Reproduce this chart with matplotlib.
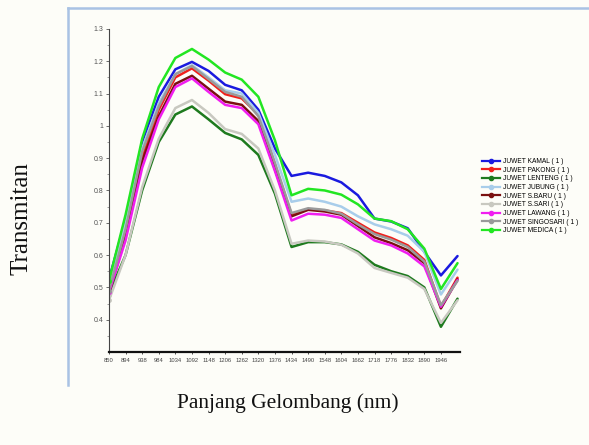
"""Transmittance spectra of nine juwet samples (NIR, 850-2000 nm)."""

import matplotlib.pyplot as plt
from matplotlib.lines import Line2D

# wavelength labels shown under the x axis (one per sample step)
wavelengths = [850, 894, 938, 984, 1034, 1092, 1148, 1206, 1262, 1320, 1376,
               1434, 1490, 1548, 1604, 1662, 1718, 1776, 1832, 1890, 1946]

kamal = [0.525, 0.71, 0.95, 1.09, 1.175, 1.198, 1.17, 1.127, 1.11, 1.05, 0.93,
         0.845, 0.855, 0.845, 0.825, 0.785, 0.713, 0.704, 0.683, 0.61, 0.537, 0.597]
pakong = [0.485, 0.665, 0.90, 1.05, 1.15, 1.178, 1.14, 1.098, 1.085, 1.035, 0.88,
          0.725, 0.742, 0.738, 0.73, 0.70, 0.67, 0.653, 0.63, 0.585, 0.44, 0.53]
lenteng = [0.48, 0.60, 0.80, 0.95, 1.035, 1.06, 1.02, 0.978, 0.958, 0.91, 0.79,
           0.625, 0.64, 0.64, 0.633, 0.61, 0.57, 0.55, 0.535, 0.50, 0.378, 0.465]
jubung = [0.515, 0.70, 0.93, 1.07, 1.16, 1.188, 1.15, 1.11, 1.10, 1.04, 0.91,
          0.765, 0.775, 0.765, 0.75, 0.72, 0.695, 0.68, 0.66, 0.61, 0.478, 0.555]
s_baru = [0.48, 0.66, 0.89, 1.03, 1.13, 1.155, 1.115, 1.075, 1.065, 1.015, 0.865,
          0.72, 0.74, 0.735, 0.725, 0.69, 0.655, 0.637, 0.615, 0.575, 0.435, 0.525]
s_sari = [0.46, 0.60, 0.81, 0.96, 1.055, 1.08, 1.04, 0.99, 0.975, 0.93, 0.80,
          0.635, 0.645, 0.642, 0.632, 0.605, 0.56, 0.545, 0.53, 0.495, 0.39, 0.46]
lawang = [0.485, 0.645, 0.87, 1.02, 1.12, 1.147, 1.105, 1.065, 1.055, 1.005, 0.86,
          0.707, 0.728, 0.725, 0.715, 0.68, 0.645, 0.63, 0.605, 0.565, 0.44, 0.523]
singosari = [0.49, 0.68, 0.92, 1.06, 1.16, 1.185, 1.145, 1.105, 1.09, 1.03, 0.885,
             0.73, 0.745, 0.74, 0.728, 0.695, 0.665, 0.648, 0.625, 0.58, 0.445, 0.52]
medica = [0.52, 0.725, 0.96, 1.12, 1.21, 1.238, 1.205, 1.165, 1.143, 1.09, 0.955,
          0.785, 0.805, 0.80, 0.787, 0.757, 0.713, 0.705, 0.68, 0.62, 0.495, 0.575]

series = [
    ("JUWET KAMAL ( 1 )", kamal, "#1a1adf"),
    ("JUWET PAKONG ( 1 )", pakong, "#f0201c"),
    ("JUWET LENTENG ( 1 )", lenteng, "#1e7a1e"),
    ("JUWET JUBUNG ( 1 )", jubung, "#a8cdea"),
    ("JUWET S.BARU ( 1 )", s_baru, "#7a1010"),
    ("JUWET S.SARI ( 1 )", s_sari, "#c8c8c0"),
    ("JUWET LAWANG ( 1 )", lawang, "#f01ef0"),
    ("JUWET SINGOSARI ( 1 )", singosari, "#9a9a9a"),
    ("JUWET MEDICA ( 1 )", medica, "#22e622"),
]

bg = "#fdfdf8"
fig = plt.figure(figsize=(5.89, 4.45), dpi=100, facecolor=bg)
ax = fig.add_axes([0.185, 0.209, 0.596, 0.726], facecolor=bg)

handles = []
for name, vals, col in series:
    x = list(range(len(vals)))
    ax.plot(x, vals, color=col, lw=1.8, solid_capstyle="round",
            solid_joinstyle="round", marker="o", markevery=[0], ms=2.5)
    handles.append(Line2D([], [], color=col, lw=1.6, marker="o", ms=3, label=name))

ax.set_xlim(0, 21.15)
ax.set_ylim(0.3, 1.3)
ax.set_xticks(range(len(wavelengths)))
ax.set_xticklabels([str(w) for w in wavelengths])
ax.set_yticks([0.4, 0.5, 0.6, 0.7, 0.8, 0.9, 1.0, 1.1, 1.2, 1.3])
ax.set_yticklabels(["0.4", "0.5", "0.6", "0.7", "0.8", "0.9", "1", "1.1", "1.2", "1.3"])
ax.set_yticks([0.35 + 0.1 * k for k in range(10)], minor=True)

ax.tick_params(axis="y", which="major", length=2.5, width=0.6, pad=1.5,
               labelsize=5, labelcolor="#555555", color="#555555")
ax.tick_params(axis="y", which="minor", length=1.5, width=0.5, color="#777777")
ax.tick_params(axis="x", length=1.5, width=0.6, pad=2.5, labelsize=4.2,
               labelcolor="#444444", color="#333333")
for t in ax.get_xticklabels() + ax.get_yticklabels():
    t.set_family(["Liberation Sans", "DejaVu Sans"])

for side in ("top", "right"):
    ax.spines[side].set_visible(False)
ax.spines["left"].set_color("#444444")
ax.spines["left"].set_linewidth(0.8)
ax.spines["bottom"].set_color("#111111")
ax.spines["bottom"].set_linewidth(1.6)

fig.legend(handles=handles, loc="upper left", bbox_to_anchor=(482 / 589, 1 - 158 / 445),
           frameon=False, handlelength=2.7, handletextpad=0.4,
           labelspacing=0.25, borderpad=0, borderaxespad=0,
           prop={"family": ["Liberation Sans", "DejaVu Sans"], "size": 4.8})

# light blue frame around the chart panel
fig.add_artist(Line2D([68 / 589, 68 / 589], [1 - 8 / 445, 1 - 385 / 445],
                      transform=fig.transFigure, color="#a9c2e4", lw=1.8))
fig.add_artist(Line2D([68 / 589, 1.0], [1 - 8 / 445, 1 - 8 / 445],
                      transform=fig.transFigure, color="#a9c2e4", lw=1.8))

serif = ["Liberation Serif", "DejaVu Serif"]
fig.text(22 / 589, 1 - 219 / 445, "Transmitan", rotation=90, ha="center", va="center",
         fontsize=18, family=serif, color="#111111")
fig.text(288 / 589, 1 - 403 / 445, "Panjang Gelombang (nm)", ha="center", va="center",
         fontsize=15.5, family=serif, color="#111111")

fig.savefig("out.png", dpi=100, facecolor=bg)
